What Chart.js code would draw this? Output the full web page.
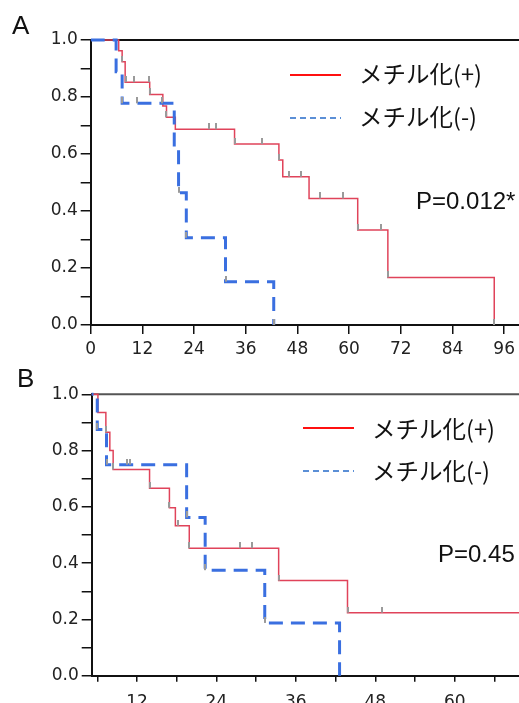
<!DOCTYPE html>
<html>
<head>
<meta charset="utf-8">
<script src="https://cdn.jsdelivr.net/npm/chart.js@4"></script>
<style>
  html, body { margin: 0; padding: 0; background: #fff; overflow: hidden; width: 519px; height: 703px; }
  .panel { position: absolute; left: 0; }
  .tag { position: absolute; font-family: "Liberation Sans", Arial, sans-serif; font-size: 26px; line-height: 1; color: #111; }
  .key { position: absolute; font-family: "Noto Sans CJK JP", sans-serif; font-size: 23.5px; line-height: 1; color: #111; white-space: nowrap; }
  .swatch { position: absolute; width: 51px; height: 2px; }
  .solid { background: #ff1010; }
  .dashed { background: repeating-linear-gradient(to right, #5b8fd6 0 6px, transparent 6px 10px); }
  .pval { position: absolute; font-family: "Liberation Sans", Arial, sans-serif; font-size: 24px; line-height: 1; color: #111; white-space: nowrap; }
</style>
</head>
<body>
<canvas id="chartA" class="panel" width="540" height="360" style="top:0;width:540px;height:360px"></canvas>
<canvas id="chartB" class="panel" width="540" height="343" style="top:360px;width:540px;height:343px"></canvas>

<div class="tag" style="left:12px;top:12px">A</div>
<div class="tag" style="left:17px;top:365px">B</div>

<div class="swatch solid" style="left:290px;top:74px"></div>
<div class="key" style="left:359px;top:62px">メチル化(+)</div>
<div class="swatch dashed" style="left:290px;top:116.5px"></div>
<div class="key" style="left:359px;top:105px">メチル化(-)</div>
<div class="pval" style="left:416px;top:189px">P=0.012*</div>

<div class="swatch solid" style="left:303px;top:427px"></div>
<div class="key" style="left:372px;top:417px">メチル化(+)</div>
<div class="swatch dashed" style="left:303px;top:470px"></div>
<div class="key" style="left:372px;top:459px">メチル化(-)</div>
<div class="pval" style="left:438px;top:542px">P=0.45</div>

<script>
const yTicks = [0, 0.1, 0.2, 0.3, 0.4, 0.5, 0.6, 0.7, 0.8, 0.9, 1.0];
const xTicksA = [0, 12, 24, 36, 48, 60, 72, 84, 96];
const xTicksB = [6, 12, 18, 24, 30, 36, 42, 48, 54, 60, 66];

// panel A: months / survival after each event
const redTimesA = [0, 6.5, 7.3, 8.0, 13.7, 16.75, 17.6, 19.65, 33.4, 43.7, 44.6, 50.7, 62.0, 69.0, 93.7];
const redSurvA = [1, 0.962, 0.924, 0.852, 0.809, 0.768, 0.729, 0.687, 0.635, 0.579, 0.52, 0.444, 0.333, 0.167, 0];
const redCensorA = [7.3, 8.2, 10.1, 13.6, 13.7, 17.6, 27.5, 29.2, 33.4, 39.7, 43.7, 46.1, 48.8, 53.2, 58.6, 62.0, 67.4, 69.0, 93.7];

const blueTimesA = [0, 5.9, 7.3, 19.4, 20.4, 22.2, 31.3, 42.5];
const blueSurvA = [1, 0.889, 0.778, 0.62, 0.464, 0.306, 0.152, 0];
const blueCensorA = [7.3, 10.7, 16.6, 20.4, 22.2, 31.3, 42.5];

// panel B
const redTimesB = [0, 6.1, 7.3, 7.9, 8.4, 13.9, 16.9, 17.8, 19.9, 33.4, 43.8, 75];
const redSurvB = [1, 0.935, 0.865, 0.8, 0.733, 0.666, 0.597, 0.533, 0.453, 0.338, 0.224, 0.224];
const redCensorB = [7.3, 8.4, 13.9, 16.9, 18.2, 19.9, 27.6, 29.3, 33.4, 43.8, 49.0];

const blueTimesB = [0, 6.0, 7.4, 19.5, 22.3, 31.3, 42.6];
const blueSurvB = [1, 0.875, 0.75, 0.5625, 0.375, 0.1875, 0];
const blueCensorB = [6.0, 7.4, 10.5, 10.9, 19.5, 22.3, 31.3];

const RED = "#e0435a";
const BLUE = "#3a6fe0";
const tickFont = { family: "DejaVu Sans", size: 17 };

function stepAt(times, surv, t) {
  let value = surv[0];
  times.forEach((time, i) => { if (time <= t + 1e-9) value = surv[i]; });
  return value;
}

function censorGlyph(len) {
  const c = document.createElement("canvas");
  c.width = 2;
  c.height = len * 2;
  const g = c.getContext("2d");
  g.fillStyle = "#9a9a9a";
  g.fillRect(0, 0, 2, len);
  return c;
}

const glyph = censorGlyph(6);

function curve(times, surv, color, width, dash, order) {
  return {
    data: times.map((t, i) => ({ x: t, y: surv[i] })),
    borderColor: color,
    borderWidth: width,
    borderDash: dash,
    stepped: true,
    pointRadius: 0,
    fill: false,
    order: order,
    clip: { left: 0, top: 3, right: 10, bottom: 3 },
  };
}

function censors(marks, times, surv) {
  return {
    data: marks.map((t) => ({ x: t, y: stepAt(times, surv, t) })),
    showLine: false,
    pointStyle: glyph,
    pointRadius: 6,
    order: 0,
    clip: { left: 0, top: 8, right: 10, bottom: 3 },
  };
}

const topBorder = {
  id: "topBorder",
  beforeDatasetsDraw(chart, args, opts) {
    const { ctx, chartArea } = chart;
    ctx.save();
    ctx.strokeStyle = opts.color;
    ctx.lineWidth = opts.width;
    ctx.beginPath();
    ctx.moveTo(chartArea.left, chartArea.top);
    ctx.lineTo(chartArea.right + 20, chartArea.top);
    ctx.stroke();
    ctx.restore();
  },
};

function buildPanel(canvasId, p) {
  return new Chart(document.getElementById(canvasId), {
    type: "line",
    data: { datasets: p.datasets },
    plugins: [topBorder],
    options: {
      responsive: false,
      animation: false,
      events: [],
      layout: { padding: { left: 0, top: p.top, right: 0, bottom: 0 } },
      plugins: {
        legend: { display: false },
        tooltip: { enabled: false },
        topBorder: { color: p.topColor, width: 2 },
      },
      scales: {
        x: {
          type: "linear",
          min: p.xMin,
          max: p.xMax,
          afterBuildTicks: (s) => { s.ticks = p.xTicks.map((v) => ({ value: v })); },
          afterFit: (s) => { s.height = p.xHeight; },
          ticks: {
            font: tickFont,
            color: "#222",
            padding: p.xPad,
            maxRotation: 0,
            autoSkip: false,
            callback: (v) => (v % 12 === 0 ? String(v) : ""),
          },
          grid: { drawOnChartArea: false, tickLength: p.xTickLen, color: "#111", lineWidth: 1.5 },
          border: { color: "#111", width: 2 },
        },
        y: {
          min: 0,
          max: 1,
          afterBuildTicks: (s) => { s.ticks = yTicks.map((v) => ({ value: v })); },
          afterFit: (s) => { s.width = p.yWidth; },
          ticks: {
            font: tickFont,
            color: "#222",
            padding: 3,
            callback: (v) => (Math.round(v * 10) % 2 === 0 ? v.toFixed(1) : ""),
          },
          grid: { drawOnChartArea: false, tickLength: 10, color: "#111", lineWidth: 1.5 },
          border: { color: "#111", width: 2 },
        },
      },
    },
  });
}

buildPanel("chartA", {
  top: 40,
  yWidth: 90.7,
  xHeight: 35,
  xMin: 0,
  xMax: 102.7,
  xTicks: xTicksA,
  xTickLen: 9,
  xPad: 5,
  topColor: "#111",
  datasets: [
    censors(redCensorA, redTimesA, redSurvA),
    censors(blueCensorA, blueTimesA, blueSurvA),
    curve(blueTimesA, blueSurvA, BLUE, 3, [14, 8], 1),
    curve(redTimesA, redSurvA, RED, 1.5, [], 2),
  ],
});

buildPanel("chartB", {
  top: 34.3,
  yWidth: 91.7,
  xHeight: 27.3,
  xMin: 5.16,
  xMax: 71.82,
  xTicks: xTicksB,
  xTickLen: 6,
  xPad: 11,
  topColor: "#555",
  datasets: [
    censors(redCensorB, redTimesB, redSurvB),
    censors(blueCensorB, blueTimesB, blueSurvB),
    curve(blueTimesB, blueSurvB, BLUE, 3, [14, 8], 1),
    curve(redTimesB, redSurvB, RED, 1.5, [], 2),
  ],
});
</script>
</body>
</html>
